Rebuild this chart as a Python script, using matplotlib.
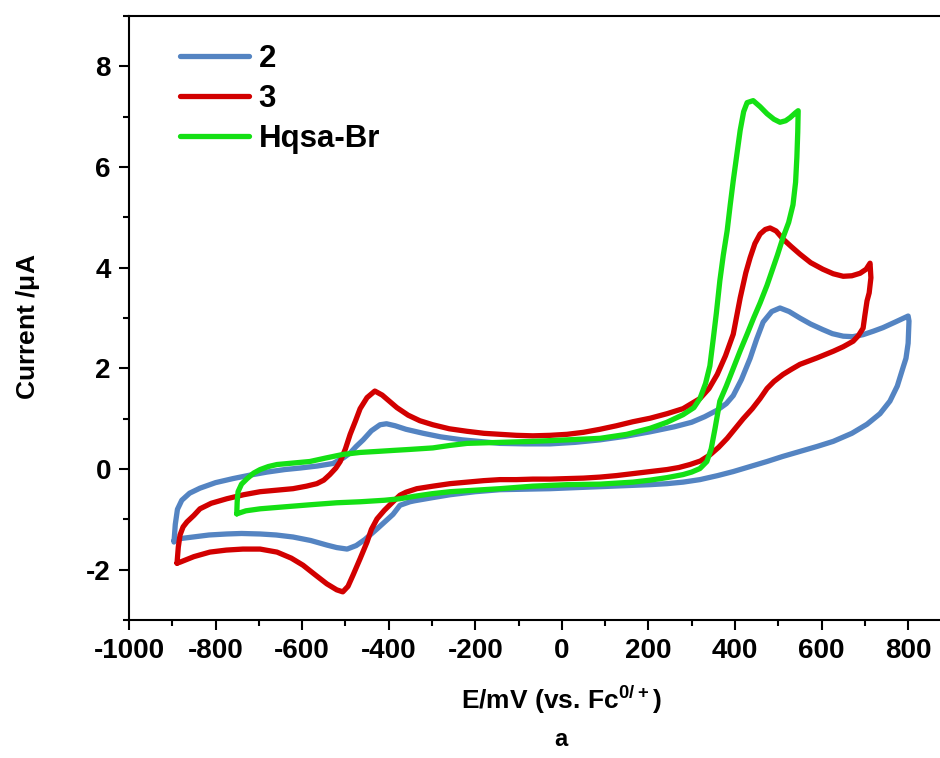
import matplotlib
matplotlib.use('Agg')
import matplotlib.pyplot as plt
from matplotlib.ticker import MultipleLocator

plt.rcParams['font.family'] = ['Liberation Sans', 'DejaVu Sans']
plt.rcParams['font.weight'] = 'bold'
plt.rcParams['mathtext.fontset'] = 'custom'
plt.rcParams['mathtext.rm'] = 'Liberation Sans:bold'
plt.rcParams['axes.unicode_minus'] = False

# ---- data (E in mV, current in uA), each a closed CV loop ----
e_2 = [-896, -893, -888, -878, -860, -836, -800, -760, -720, -681, -640, -605, -565, -529,
       -505, -489, -475, -459, -440, -420, -405, -385, -360, -320, -280, -230, -180, -143,
       -85, -27, 30, 88, 146, 204, 260, 300, 330, 359, 380, 396, 415, 435, 450, 465, 485,
       504, 525, 550, 575, 603, 625, 650, 672, 696, 720, 742, 770, 800,
       802, 800, 795, 788, 775, 758, 735, 705, 670, 627, 590, 550, 510, 474, 435, 396, 360,
       319, 280, 243, 204, 146, 88, 30, -27, -85, -143, -200, -258, -300, -340, -351, -374,
       -390, -427, -455, -475, -496, -520, -543, -580, -621, -660, -697, -740, -774, -815,
       -852, -880, -896]
i_2 = [-1.45, -1.10, -0.80, -0.62, -0.48, -0.38, -0.27, -0.19, -0.12, -0.06, -0.01, 0.02, 0.06, 0.11,
       0.22, 0.32, 0.45, 0.58, 0.76, 0.88, 0.90, 0.86, 0.79, 0.71, 0.64, 0.58, 0.54, 0.51,
       0.50, 0.50, 0.53, 0.58, 0.65, 0.74, 0.84, 0.93, 1.04, 1.17, 1.30, 1.46, 1.78, 2.20, 2.58, 2.92, 3.13,
       3.20, 3.13, 3.00, 2.88, 2.77, 2.69, 2.64, 2.63, 2.67, 2.74, 2.81, 2.92, 3.04,
       2.94, 2.50, 2.20, 2.01, 1.65, 1.35, 1.10, 0.89, 0.71, 0.55, 0.45, 0.35, 0.25, 0.15, 0.05, -0.05, -0.13,
       -0.21, -0.26, -0.29, -0.31, -0.33, -0.35, -0.37, -0.39, -0.40, -0.41, -0.45, -0.51, -0.57, -0.63, -0.65, -0.72,
       -0.90, -1.19, -1.40, -1.52, -1.59, -1.56, -1.51, -1.42, -1.35, -1.31, -1.29, -1.28, -1.29, -1.31,
       -1.35, -1.38, -1.42]

e_3 = [-889, -886, -882, -875, -866, -850, -836, -810, -774, -735, -697, -660, -621, -590, -566,
       -550, -536, -522, -512, -500, -489, -477, -466, -450, -432, -415, -400, -381, -355, -328,
       -298, -260, -219, -180, -143, -105, -67, -27, 12, 50, 88, 126, 164, 204, 243, 280, 319,
       340, 359, 378, 396, 412, 425, 435, 446, 458, 470, 481, 495, 511, 530, 550, 575, 603, 627,
       650, 670, 689, 703, 712,
       714, 710, 705, 700, 696, 685, 673, 650, 627, 590, 550, 530, 511, 490, 474, 458, 440, 419,
       400, 382, 362, 342, 320, 296, 270, 243, 204, 164, 126, 88, 50, 12, -27, -67, -105, -143,
       -180, -219, -258, -298, -335, -360, -374, -390, -410, -427, -440, -450, -466, -482, -494,
       -506, -520, -543, -570, -598, -625, -658, -697, -737, -775, -813, -850, -882, -889]
i_3 = [-1.87, -1.55, -1.31, -1.15, -1.05, -0.92, -0.79, -0.68, -0.59, -0.51, -0.45, -0.42, -0.39, -0.34, -0.29,
       -0.22, -0.11, 0.02, 0.15, 0.40, 0.69, 0.95, 1.20, 1.42, 1.55, 1.47, 1.36, 1.22, 1.07, 0.96,
       0.88, 0.80, 0.75, 0.71, 0.69, 0.67, 0.66, 0.67, 0.69, 0.73, 0.79, 0.86, 0.94, 1.01, 1.10, 1.20, 1.40,
       1.60, 1.88, 2.25, 2.68, 3.40, 3.90, 4.20, 4.48, 4.67, 4.76, 4.79, 4.73, 4.57, 4.42, 4.27, 4.10, 3.97, 3.88,
       3.83, 3.84, 3.89, 3.97, 4.09,
       3.80, 3.50, 3.34, 3.05, 2.80, 2.65, 2.54, 2.43, 2.34, 2.21, 2.08, 1.98, 1.88, 1.74, 1.60, 1.40, 1.20, 1.00,
       0.80, 0.61, 0.43, 0.28, 0.16, 0.09, 0.03, -0.01, -0.05, -0.09, -0.13, -0.16, -0.18, -0.19, -0.20, -0.20, -0.21, -0.21,
       -0.23, -0.26, -0.29, -0.34, -0.39, -0.46, -0.52, -0.65, -0.82, -0.99, -1.20, -1.45, -1.78, -2.10, -2.33,
       -2.44, -2.40, -2.28, -2.10, -1.91, -1.77, -1.65, -1.59, -1.59, -1.61, -1.65, -1.74, -1.85, -1.87]

e_hq = [-751, -750, -748, -740, -727, -712, -697, -678, -658, -620, -582, -545, -506, -466, -427,
        -390, -351, -298, -258, -219, -143, -67, 12, 88, 150, 204, 243, 280, 305, 319, 332, 342,
        350, 357, 365, 373, 382, 389, 396, 404, 412, 420, 428, 442, 458, 474, 490, 504, 517, 527,
        540, 546,
        545, 543, 540, 534, 524, 511, 498, 488, 474, 458, 443, 428, 412, 396, 380, 365, 354, 345,
        335, 319, 300, 280, 243, 204, 164, 126, 88, 12, -67, -143, -200, -258, -300, -340, -374,
        -410, -466, -520, -582, -640, -697, -730, -751]
i_hq = [-0.89, -0.65, -0.45, -0.30, -0.19, -0.08, -0.01, 0.05, 0.09, 0.12, 0.15, 0.22, 0.29, 0.33, 0.35,
        0.37, 0.39, 0.42, 0.47, 0.51, 0.53, 0.55, 0.58, 0.61, 0.69, 0.81, 0.93, 1.08, 1.22, 1.40, 1.70, 2.05,
        2.60, 3.10, 3.74, 4.25, 4.74, 5.25, 5.73, 6.23, 6.73, 7.10, 7.28, 7.32, 7.20, 7.06, 6.95, 6.89, 6.92, 6.98,
        7.08, 7.12,
        6.70, 6.20, 5.70, 5.25, 4.90, 4.60, 4.25, 4.00, 3.65, 3.30, 3.00, 2.68, 2.35, 2.00, 1.65, 1.35, 0.81, 0.40,
        0.15, 0.01, -0.06, -0.11, -0.17, -0.22, -0.26, -0.28, -0.30, -0.31, -0.34, -0.39, -0.42, -0.45, -0.49, -0.54, -0.59,
        -0.62, -0.65, -0.67, -0.71, -0.75, -0.79, -0.83, -0.89]

labels = ['2', '3', 'Hqsa-Br']
colors = ['#5484C2', '#D20000', '#14E014']
x_ticks = [-1000, -800, -600, -400, -200, 0, 200, 400, 600, 800]

fig = plt.figure(figsize=(9.4, 7.58), dpi=100)
# axes run past the right edge of the figure, as in the reference (right spine cut off)
ax = fig.add_axes([0.1372, 0.182, 0.921, 0.7968])

for e, i, lab, c in zip([e_2, e_3, e_hq], [i_2, i_3, i_hq], labels, colors):
    ax.plot(e, i, color=c, lw=3.8, label=lab, solid_joinstyle='round', solid_capstyle='round')

ax.set_xlim(-1000, 1000)
ax.set_ylim(-3, 9)
ax.set_xticks(x_ticks)
ax.xaxis.set_minor_locator(MultipleLocator(100))
ax.yaxis.set_major_locator(MultipleLocator(2))
ax.yaxis.set_minor_locator(MultipleLocator(1))
ax.tick_params(which='both', direction='out', width=1.5, top=False, right=False)
ax.tick_params(which='major', length=7, labelsize=20, pad=6)
ax.tick_params(which='minor', length=4.5)
for s in ax.spines.values():
    s.set_linewidth(1.5)

ax.set_xlabel(r'E/mV (vs. Fc$^{\rm 0/+}$)', fontsize=19, fontweight='bold', labelpad=14)
ax.set_ylabel(r'Current /$\rm\mu$A', fontsize=19, fontweight='bold')
ax.yaxis.set_label_coords(-0.100, 0.485)
fig.text(0.597, 0.016, 'a', fontsize=17, fontweight='bold', ha='center')

ax.legend(loc='upper left', bbox_to_anchor=(0.045, 0.975), frameon=False, fontsize=22.5,
          handlelength=2.2, handletextpad=0.3, labelspacing=0.32, borderaxespad=0)

plt.savefig('out.png', dpi=100)
